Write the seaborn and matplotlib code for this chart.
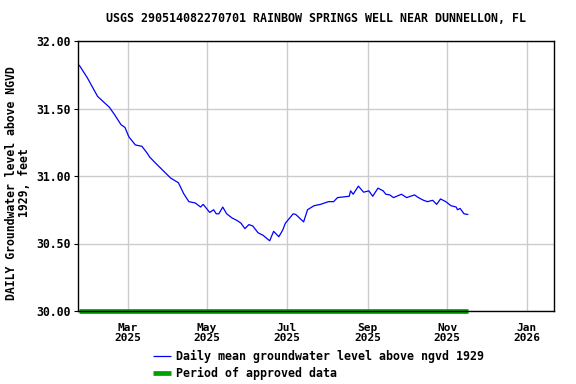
import matplotlib
matplotlib.use("Agg")
import matplotlib.pyplot as plt
import seaborn as sns
import pandas as pd

dates = ["2025-01-23", "2025-01-29", "2025-02-02", "2025-02-06", "2025-02-11", "2025-02-15",
         "2025-02-19", "2025-02-24", "2025-02-27", "2025-03-02", "2025-03-07", "2025-03-12",
         "2025-03-16", "2025-03-18", "2025-03-22", "2025-04-03", "2025-04-09", "2025-04-13",
         "2025-04-17", "2025-04-22", "2025-04-26", "2025-04-28", "2025-05-03", "2025-05-06",
         "2025-05-08", "2025-05-10", "2025-05-13", "2025-05-16", "2025-05-20", "2025-05-24",
         "2025-05-27", "2025-05-30", "2025-06-02", "2025-06-05", "2025-06-09", "2025-06-13",
         "2025-06-18", "2025-06-21", "2025-06-25", "2025-06-28", "2025-06-30", "2025-07-06",
         "2025-07-08", "2025-07-14", "2025-07-17", "2025-07-22", "2025-07-27", "2025-08-02",
         "2025-08-06", "2025-08-09", "2025-08-18", "2025-08-19", "2025-08-21", "2025-08-25",
         "2025-08-29", "2025-09-02", "2025-09-05", "2025-09-09", "2025-09-13", "2025-09-15",
         "2025-09-18", "2025-09-21", "2025-09-27", "2025-10-01", "2025-10-07", "2025-10-10",
         "2025-10-14", "2025-10-17", "2025-10-21", "2025-10-24", "2025-10-27", "2025-10-31",
         "2025-11-04", "2025-11-08", "2025-11-09", "2025-11-11", "2025-11-14", "2025-11-17"]
levels = [31.82, 31.73, 31.66, 31.59, 31.545, 31.51,
          31.455, 31.38, 31.36, 31.29, 31.23, 31.22,
          31.17, 31.14, 31.10, 30.985, 30.95, 30.87,
          30.81, 30.80, 30.77, 30.79, 30.73, 30.75,
          30.72, 30.72, 30.77, 30.72, 30.69, 30.67,
          30.65, 30.61, 30.64, 30.63, 30.58, 30.56,
          30.52, 30.59, 30.55, 30.60, 30.65, 30.72,
          30.715, 30.66, 30.75, 30.78, 30.79, 30.81,
          30.81, 30.84, 30.85, 30.89, 30.865, 30.925,
          30.88, 30.89, 30.85, 30.91, 30.89, 30.865,
          30.86, 30.84, 30.865, 30.84, 30.86, 30.84,
          30.82, 30.81, 30.82, 30.79, 30.83, 30.81,
          30.78, 30.77, 30.75, 30.76, 30.72, 30.715]

approved_start = "2025-01-23"
approved_end = "2025-11-17"
approved_level = 30.00

x_start, x_end = "2025-01-22", "2026-01-22"
y_ticks = [30.00, 30.50, 31.00, 31.50, 32.00]
x_ticks = ["2025-03-01", "2025-05-01", "2025-07-01", "2025-09-01", "2025-11-01", "2026-01-01"]
x_labels = ["Mar\n2025", "May\n2025", "Jul\n2025", "Sep\n2025", "Nov\n2025", "Jan\n2026"]

title = "USGS 290514082270701 RAINBOW SPRINGS WELL NEAR DUNNELLON, FL"
ylabel = "DAILY Groundwater level above NGVD\n1929, feet"
legend_labels = ["Daily mean groundwater level above ngvd 1929", "Period of approved data"]

sns.set_theme(style="white")
plt.rcParams["font.family"] = ["DejaVu Sans Mono"]
plt.rcParams["font.weight"] = "bold"
plt.rcParams["text.color"] = "black"

df = pd.DataFrame({"date": pd.to_datetime(dates), "level": levels})
ap = pd.DataFrame({"date": pd.to_datetime([approved_start, approved_end]),
                   "level": [approved_level, approved_level]})

fig = plt.figure(figsize=(5.76, 3.84), dpi=100)
ax = fig.add_axes([78/576, 1-311/384, (554-78)/576, (311-41)/384])

sns.lineplot(data=df, x="date", y="level", ax=ax, color="#0000ff", linewidth=0.9,
             label=legend_labels[0])
sns.lineplot(data=ap, x="date", y="level", ax=ax, color="#00a000", linewidth=3.4,
             label=legend_labels[1], clip_on=False, solid_capstyle="butt")

ax.set_xlim(pd.Timestamp(x_start), pd.Timestamp(x_end))
ax.set_ylim(30.0, 32.0)
ax.set_yticks(y_ticks)
ax.set_yticklabels([f"{v:.2f}" for v in y_ticks], fontsize=8.3, fontweight="bold", color="black")
ax.set_xticks(pd.to_datetime(x_ticks))
ax.set_xticklabels(x_labels, fontsize=8.0, fontweight="bold", linespacing=1.05, color="black")
ax.tick_params(axis="y", length=3, width=0.8, color="black", direction="out", left=True, pad=2)
ax.tick_params(axis="x", bottom=False, pad=2.5)
ax.grid(True, color="#cccccc", linewidth=1.0)
for s in ax.spines.values():
    s.set_color("black")
    s.set_linewidth(1.0)

ax.set_xlabel("")
ax.set_ylabel(ylabel, fontsize=8.3, fontweight="bold", linespacing=1.0, color="black")
ax.yaxis.set_label_coords(-0.098, 0.474)

fig.text(316/576, 1-19/384, title, ha="center", va="center", fontsize=8.4, fontweight="bold",
         color="black")

leg = ax.legend(loc="upper left", bbox_to_anchor=((153-78)/476, -0.145), frameon=False,
                fontsize=8.4, handlelength=1.55, labelspacing=0.28, handletextpad=0.45,
                borderaxespad=0, borderpad=0)
for t in leg.get_texts():
    t.set_fontweight("bold")
    t.set_color("black")
for h in leg.get_lines():
    h.set_solid_capstyle("butt")

fig.savefig("out.png", dpi=100)
